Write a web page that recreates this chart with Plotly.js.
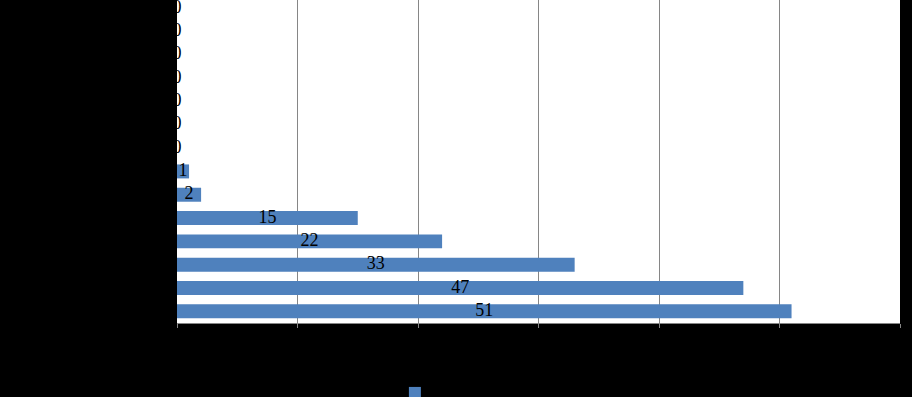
<!DOCTYPE html>
<html>
<head>
<meta charset="utf-8">
<script src="https://cdn.plot.ly/plotly-3.0.1.min.js"></script>
<style>html,body{margin:0;padding:0;background:#000;}</style>
</head>
<body>
<div id="chart" style="width:912px;height:397px;"></div>
<script>
// Data (bottom to top)
const categories = ["Category 1","Category 2","Category 3","Category 4","Category 5","Category 6","Category 7",
                    "Category 8","Category 9","Category 10","Category 11","Category 12","Category 13","Category 14"];
const values = [51, 47, 33, 22, 15, 2, 1, 0, 0, 0, 0, 0, 0, 0];
const seriesName = "Series1";
const xTicks = [0, 10, 20, 30, 40, 50, 60];

const barColor = "#4F81BD";

const bars = {
  type: "bar",
  orientation: "h",
  name: seriesName,
  y: categories,
  x: values,
  marker: {color: barColor},
  hoverinfo: "skip"
};

const labels = {
  type: "scatter",
  mode: "text",
  y: categories,
  x: values.map(v => v / 2),
  text: values.map(String),
  textposition: "middle center",
  textfont: {family: "Liberation Serif, Times New Roman, serif", size: 18, color: "#000"},
  cliponaxis: true,
  showlegend: false,
  hoverinfo: "skip"
};

const layout = {
  width: 912,
  height: 397,
  paper_bgcolor: "#000",
  plot_bgcolor: "#fff",
  margin: {l: 177, r: 12, t: 0, b: 74, pad: 0, autoexpand: false},
  bargap: 0.4,
  showlegend: true,
  font: {family: "Liberation Serif, Times New Roman, serif", size: 16, color: "#000"},
  xaxis: {
    range: [0, 60],
    tickvals: xTicks,
    ticktext: xTicks.map(String),
    automargin: false,
    showgrid: true,
    gridcolor: "#868686",
    gridwidth: 1,
    zeroline: false,
    showline: true,
    linecolor: "#868686",
    linewidth: 1,
    mirror: true,
    ticks: "outside",
    tickcolor: "#868686",
    ticklen: 4,
    tickfont: {color: "#000", size: 16}
  },
  yaxis: {
    type: "category",
    range: [-0.5, 13.35],
    automargin: false,
    showgrid: false,
    zeroline: false,
    showline: false,
    ticklabelstandoff: 10,
    tickfont: {color: "#000", size: 16}
  },
  legend: {
    orientation: "h",
    xref: "container",
    yref: "container",
    x: 0.433,
    xanchor: "left",
    y: 0.010,
    yanchor: "middle",
    bgcolor: "rgba(0,0,0,0)",
    font: {color: "#000", size: 16}
  }
};

Plotly.newPlot("chart", [bars, labels], layout, {displayModeBar: false, staticPlot: true});
</script>
</body>
</html>
